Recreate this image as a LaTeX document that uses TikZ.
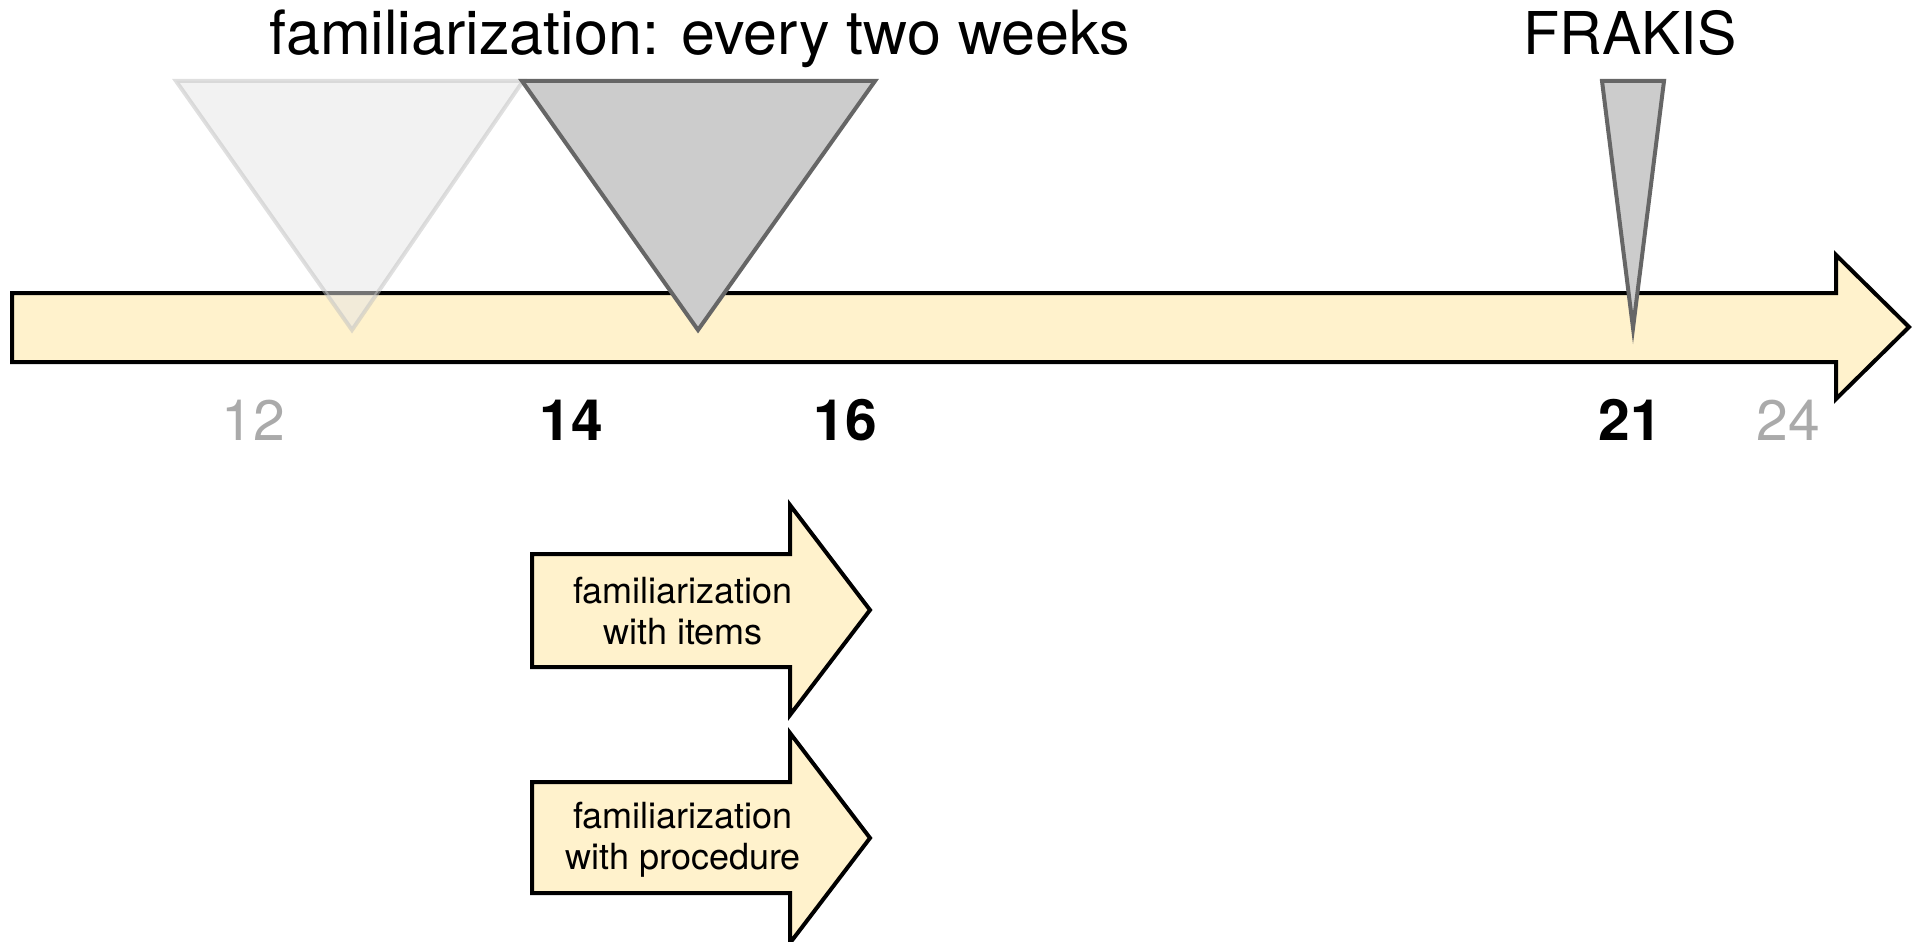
\documentclass[tikz,border=0pt]{standalone}
\usepackage{fontspec}
\setmainfont{TeX Gyre Heros}
\definecolor{axisfill}{HTML}{FFF2CC}
\definecolor{darkfill}{HTML}{CCCCCC}
\definecolor{darkline}{HTML}{666666}
\definecolor{ghostfill}{HTML}{E6E6E6}
\definecolor{ghostline}{HTML}{C0C0C0}
\definecolor{greynum}{HTML}{AAAAAA}
\tikzset{
  bigarrow/.style={draw=black, line width=4pt, fill=axisfill, line join=miter},
  darktri/.style={draw=darkline, line width=4pt, fill=darkfill, line join=miter},
  ghosttri/.style={draw=ghostline, line width=4pt, fill=ghostfill, opacity=0.5, line join=miter},
  titletext/.style={inner sep=0pt, anchor=base, font=\fontsize{61}{70}\selectfont},
  numgrey/.style={inner sep=0pt, anchor=base, text=greynum, font=\fontsize{57}{66}\selectfont},
  numbold/.style={inner sep=0pt, anchor=base, font=\fontsize{57}{66}\selectfont\bfseries},
  arrowtext/.style={inner sep=0pt, align=center, font=\fontsize{36}{41}\selectfont}
}
\begin{document}
\begin{tikzpicture}[x=1pt,y=-1pt]
\useasboundingbox (0,0) rectangle (1917,942);
% main time axis arrow
\draw[bigarrow] (12,293) -- (1836,293) -- (1836,255) -- (1909,327) -- (1836,399) -- (1836,362) -- (12,362) -- cycle;
% triangles
\draw[ghosttri] (176,81) -- (523,81) -- (352,330) -- cycle;
\draw[darktri] (522,81) -- (875,81) -- (698,330) -- cycle;
\draw[darktri] (1602,81) -- (1664,81) -- (1633,328) -- cycle;
% titles
\node[titletext] (title) at (700,55) {familiarization: every two weeks};
\node[titletext, font=\fontsize{59}{68}\selectfont] (frakis) at (1630,55) {FRAKIS};
% week numbers
\node[numgrey] (w12) at (253,440) {12};
\node[numbold] (w14) at (571,440) {14};
\node[numbold] (w16) at (845,440) {16};
\node[numbold] (w21) at (1630,440) {21};
\node[numgrey] (w24) at (1788,440) {24};
% lower arrows
\draw[bigarrow] (532,554) -- (790,554) -- (790,505) -- (870,610) -- (790,715) -- (790,667) -- (532,667) -- cycle;
\draw[bigarrow] (532,782) -- (790,782) -- (790,733) -- (870,838) -- (790,943) -- (790,893) -- (532,893) -- cycle;
\node[arrowtext] (items) at (683,611) {familiarization\\with items};
\node[arrowtext] (proc) at (683,840) {familiarization\\with procedure};
\end{tikzpicture}
\end{document}
